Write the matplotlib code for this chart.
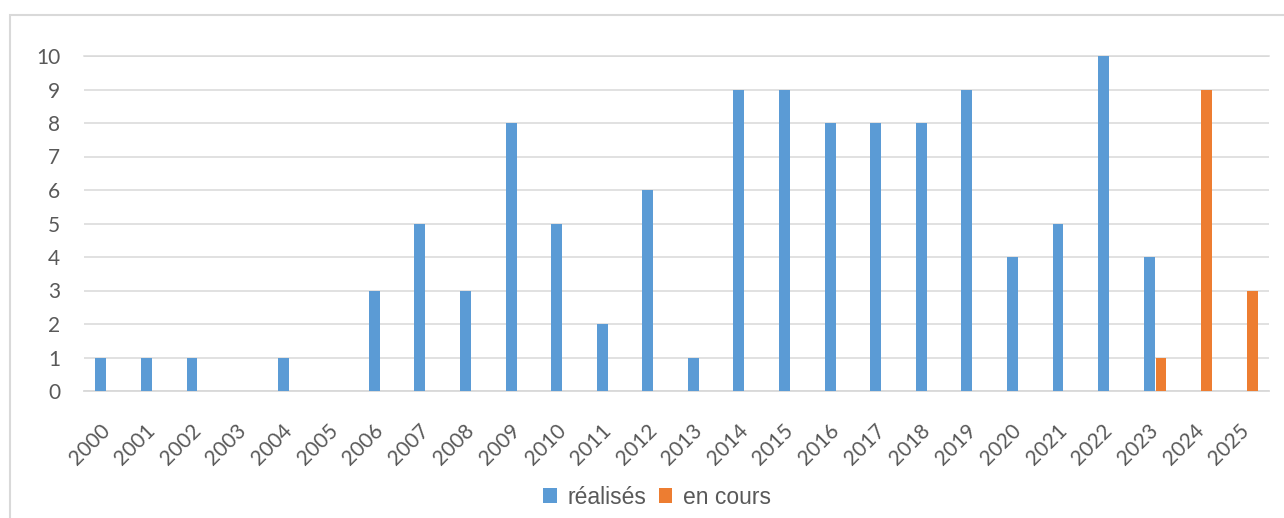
import matplotlib
matplotlib.use("Agg")
import matplotlib.pyplot as plt
import matplotlib.patches as mpatches
import numpy as np

years = [str(y) for y in range(2000, 2026)]
realises = [1, 1, 1, 0, 1, 0, 3, 5, 3, 8, 5, 2, 6, 1, 9, 9, 8, 8, 8, 9, 4, 5, 10, 4, 0, 0]
en_cours = [0, 0, 0, 0, 0, 0, 0, 0, 0, 0, 0, 0, 0, 0, 0, 0, 0, 0, 0, 0, 0, 0, 0, 1, 9, 3]
yticks = list(range(0, 11))

BLUE = "#5B9BD5"
ORANGE = "#ED7D31"
GRID = "#D9D9D9"
TXT = "#595959"

W, H = 1284, 518
fig = plt.figure(figsize=(W / 100, H / 100), dpi=100)

# outer chart border
fig.patches.append(mpatches.Rectangle((10 / W, -0.1), 1.2, (H - 15) / H + 0.1,
                                      transform=fig.transFigure, fill=False,
                                      edgecolor=GRID, linewidth=1.5))

ax = fig.add_axes([84 / W, (H - 391) / H, (1269 - 84) / W, (391 - 56) / H])
x = np.arange(len(years))
bw = 0.24
ax.bar(x - 0.13, realises, width=bw, color=BLUE, label="réalisés", zorder=3)
ax.bar(x + 0.13, en_cours, width=bw, color=ORANGE, label="en cours", zorder=3)

ax.set_xlim(-0.5, len(years) - 0.5)
ax.set_ylim(0, 10)
ax.set_yticks(yticks)
ax.set_yticklabels([str(v) for v in yticks], fontsize=15, color=TXT, family="Lato")
ax.yaxis.grid(True, color=GRID, linewidth=1.1, zorder=0)
ax.set_axisbelow(True)
for s in ["top", "right", "left"]:
    ax.spines[s].set_visible(False)
ax.spines["bottom"].set_color(GRID)
ax.spines["bottom"].set_linewidth(1.3)
ax.tick_params(axis="y", length=0, pad=17)
ax.tick_params(axis="x", length=0, pad=26)
ax.set_xticks(x)
ax.set_xticklabels(years, rotation=45, ha="right", va="center",
                   rotation_mode="anchor", fontsize=15, color=TXT, family="Lato")
ax.axhline(10, color=GRID, linewidth=1.1, zorder=0, clip_on=False)

leg = fig.legend(loc="center", bbox_to_anchor=(657 / W, (H - 497) / H), ncol=2,
                 frameon=False, handlelength=0.6, handleheight=0.6,
                 handletextpad=0.45, columnspacing=0.55,
                 prop={"family": "Liberation Sans", "size": 16.5})
for t in leg.get_texts():
    t.set_color(TXT)

fig.savefig("out.png", dpi=100)
